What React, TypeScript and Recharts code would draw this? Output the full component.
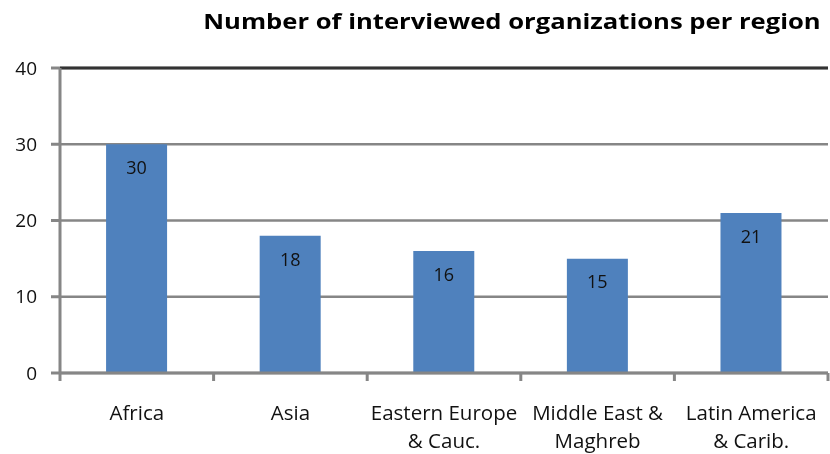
import React from 'react';
import { BarChart, Bar, XAxis, YAxis, CartesianGrid, LabelList, ReferenceLine } from 'recharts';

const regions = ['Africa', 'Asia', 'Eastern Europe\n& Cauc.', 'Middle East &\nMaghreb', 'Latin America\n& Carib.'];
const organizations = [30, 18, 16, 15, 21];
const yTicks = [0, 10, 20, 30, 40];

const chartData = regions.map((region, i) => ({ region, count: organizations[i] }));

const FONT = '"Open Sans", "DejaVu Sans", sans-serif';
const AXIS_GREY = '#868686';

const W = 830;
const H = 454;
const X_AXIS_HEIGHT = 81;
const MARGIN = { top: 68, right: 2, left: 0, bottom: 0 };
const Y_AXIS_WIDTH = 60;

const RegionTick = (props: any) => {
  const { x, payload, index } = props;
  const band = (W - MARGIN.left - MARGIN.right - Y_AXIS_WIDTH) / regions.length;
  const lines = String(payload.value).split('\n');
  const axisY = H - X_AXIS_HEIGHT;
  return (
    <g>
      <line x1={x - band / 2} x2={x - band / 2} y1={axisY} y2={axisY + 8} stroke={AXIS_GREY} strokeWidth={3} />
      {index === regions.length - 1 && (
        <line x1={x + band / 2} x2={x + band / 2} y1={axisY} y2={axisY + 8} stroke={AXIS_GREY} strokeWidth={3} />
      )}
      <text x={x} y={axisY + 47} textAnchor="middle" fontFamily={FONT} fontSize={20.5} fill="#111">
        {lines.map((line, i) => (
          <tspan key={i} x={x} dy={i === 0 ? 0 : 28}>
            {line}
          </tspan>
        ))}
      </text>
    </g>
  );
};

const App: React.FC = () => {
  return (
    <div style={{ position: 'fixed', left: 0, top: 0, width: W, height: H, background: '#fff' }}>
      <div
        style={{
          position: 'absolute',
          left: 200,
          top: 7,
          width: 624,
          textAlign: 'center',
          fontFamily: FONT,
          fontWeight: 700,
          fontSize: 21,
          color: '#000',
          whiteSpace: 'nowrap',
          transform: 'scaleX(1.22)',
          transformOrigin: 'center',
        }}
      >
        Number of interviewed organizations per region
      </div>
      <BarChart width={W} height={H} data={chartData} margin={MARGIN} barCategoryGap="30%">
        <CartesianGrid horizontal vertical={false} stroke={AXIS_GREY} strokeWidth={2.5} />
        <XAxis
          dataKey="region"
          interval={0}
          tickLine={false}
          axisLine={{ stroke: AXIS_GREY, strokeWidth: 3 }}
          tick={<RegionTick />}
          height={X_AXIS_HEIGHT}
        />
        <YAxis
          width={Y_AXIS_WIDTH}
          domain={[0, 40]}
          ticks={yTicks}
          interval={0}
          tickSize={9}
          tickLine={{ stroke: AXIS_GREY, strokeWidth: 3 }}
          axisLine={{ stroke: AXIS_GREY, strokeWidth: 3 }}
          tick={{ fill: '#111', fontFamily: FONT, fontSize: 19 }}
          tickMargin={14}
        />
        <ReferenceLine y={40} stroke="#333" strokeWidth={3} />
        <Bar dataKey="count" fill="#4F81BD" isAnimationActive={false}>
          <LabelList
            dataKey="count"
            position="insideTop"
            offset={17}
            fill="#111"
            fontFamily={FONT}
            fontSize={18}
          />
        </Bar>
      </BarChart>
    </div>
  );
};

export default App;
